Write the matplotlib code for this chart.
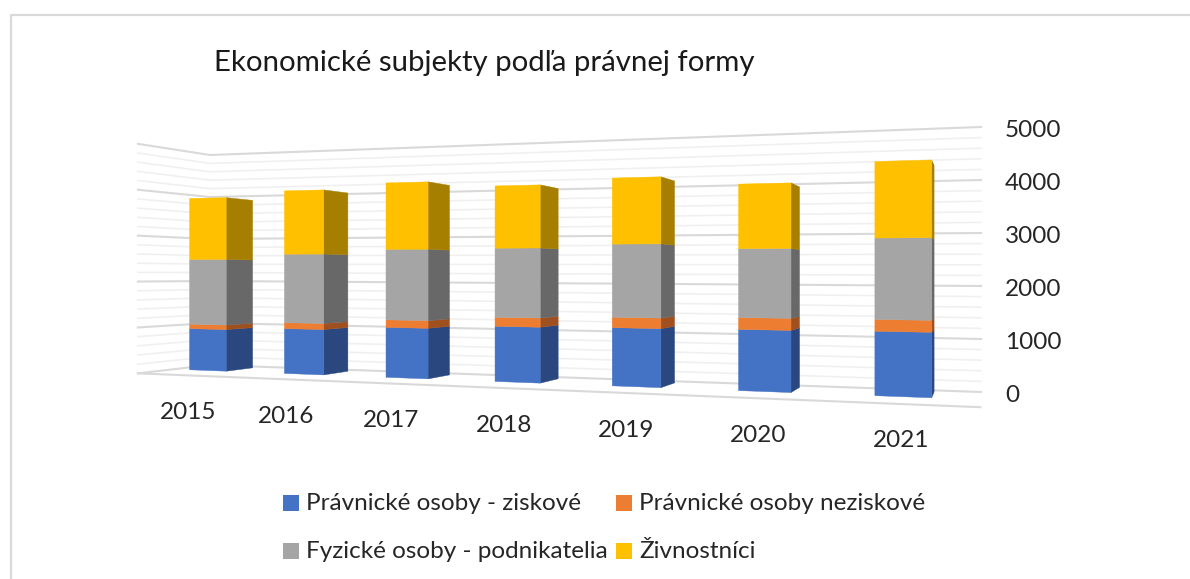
import numpy as np
import matplotlib
matplotlib.use('Agg')
import matplotlib.pyplot as plt
from matplotlib.patches import Polygon, Rectangle

plt.rcParams['font.family'] = ['Lato', 'DejaVu Sans']

# === Data ===
years = ['2015', '2016', '2017', '2018', '2019', '2020', '2021']
pravnicke_ziskove = [930, 980, 1055, 1125, 1145, 1160, 1175]
pravnicke_neziskove = [100, 130, 160, 185, 205, 225, 215]
fyzicke_podnikatelia = [1465, 1500, 1490, 1410, 1440, 1305, 1485]
zivnostnici = [1380, 1385, 1405, 1270, 1300, 1225, 1395]
value_ticks = [0, 1000, 2000, 3000, 4000, 5000]
minor_ticks = [200, 400, 600, 800, 1200, 1400, 1600, 1800, 2200, 2400, 2600, 2800,
               3200, 3400, 3600, 3800, 4200, 4400, 4600, 4800]
legend_labels = ['Právnické osoby - ziskové', 'Právnické osoby neziskové',
                 'Fyzické osoby - podnikatelia', 'Živnostníci']

front_colors = ['#4472C4', '#ED7D31', '#A5A5A5', '#FFC000']
side_colors = ['#2A4780', '#A0501F', '#686868', '#A67F00']

# === Perspective of the 3D box, in image pixels ===
VMAX = 5000.0
vp = np.array([985.0, 275.0])       # vanishing point of the depth lines
wall_l = (210.0, 365.0, 155.0)      # x, y of 0, y of 5000 at left of back wall
wall_r = (981.0, 392.0, 127.0)      # same at right of back wall
w1 = (wall_l[1] - wall_l[2]) / (wall_r[1] - wall_r[2])
depth_l, depth_r = 0.093, 0.13      # how much the front edge is scaled from the wall


def project(t, v, d):
    """t along the wall 0-1, v the value, d depth 0 (back) to 1 (front)"""
    den = (1 - t) + t * w1
    a = (1 - t) / den
    b = t * w1 / den
    x = a * wall_l[0] + b * wall_r[0]
    y0 = a * wall_l[1] + b * wall_r[1]
    y1 = a * wall_l[2] + b * wall_r[2]
    p = np.array([x, y0 + (y1 - y0) * v / VMAX])
    s = 1 + d * (depth_l + (depth_r - depth_l) * t)
    return vp + (p - vp) * s


fig = plt.figure(figsize=(11.9, 5.79), dpi=100)
ax = fig.add_axes([0, 0, 1, 1])
ax.set_xlim(0, 1190)
ax.set_ylim(579, 0)
ax.axis('off')

# outer frame of the chart, it runs off the picture at right and bottom
ax.plot([11, 11, 1190], [579, 15, 15], color='#D9D9D9', lw=1.6, zorder=1)

# === Gridlines on left and back wall ===
for ticks, col, lw in [(minor_ticks, '#F0F0F0', 1.2), (value_ticks, '#D9D9D9', 1.5)]:
    for v in ticks:
        pts = np.array([project(0, v, 1), project(0, v, 0), project(1, v, 0)])
        ax.plot(pts[:, 0], pts[:, 1], color=col, lw=lw, zorder=2)

# floor front edge
pts = np.array([project(0, 0, 1), project(1, 0, 1)])
ax.plot(pts[:, 0], pts[:, 1], color='#D9D9D9', lw=1.5, zorder=2)

# === Stacked bars ===
series = [pravnicke_ziskove, pravnicke_neziskove, fyzicke_podnikatelia, zivnostnici]
n = len(years)
bar_w = 0.40 / n
d_front, d_back = 0.5, 0.12
cat_start, cat_step = 0.0534, 0.145
for i in range(n):
    tc = cat_start + cat_step * i
    t0, t1 = tc - bar_w / 2, tc + bar_w / 2
    base = 0.0
    for vals, fc, sc in zip(series, front_colors, side_colors):
        top = base + vals[i]
        front = [project(t0, base, d_front), project(t1, base, d_front),
                 project(t1, top, d_front), project(t0, top, d_front)]
        side = [project(t1, base, d_front), project(t1, base, d_back),
                project(t1, top, d_back), project(t1, top, d_front)]
        ax.add_patch(Polygon(side, closed=True, fc=sc, ec=sc, lw=0.3, zorder=3 + i))
        ax.add_patch(Polygon(front, closed=True, fc=fc, ec=fc, lw=0.3, zorder=3 + i))
        base = top
    lx, ly = project((i + 0.5) / n, 0, 0.9)
    ax.text(lx - 3, ly + 38, years[i], ha='center', va='center', fontsize=17.5, color='#262626')

# === Value labels ===
for v in value_ticks:
    x, y = project(1, v, 0)
    ax.text(1005, y + 3.5, str(v), ha='left', va='center', fontsize=17.5, color='#262626')

# === Title and legend ===
ax.text(214, 63, 'Ekonomické subjekty podľa právnej formy', ha='left', va='center',
        fontsize=21.2, color='#1a1a1a')

legend_pos = [(283, 503), (616, 503), (283, 551), (616, 551)]
for (x, y), lab, col in zip(legend_pos, legend_labels, front_colors):
    ax.add_patch(Rectangle((x, y - 8), 16, 16, fc=col, ec='none'))
    ax.text(x + 23, y, lab, ha='left', va='center', fontsize=17.45, color='#262626')

fig.savefig('out.png', dpi=100)
